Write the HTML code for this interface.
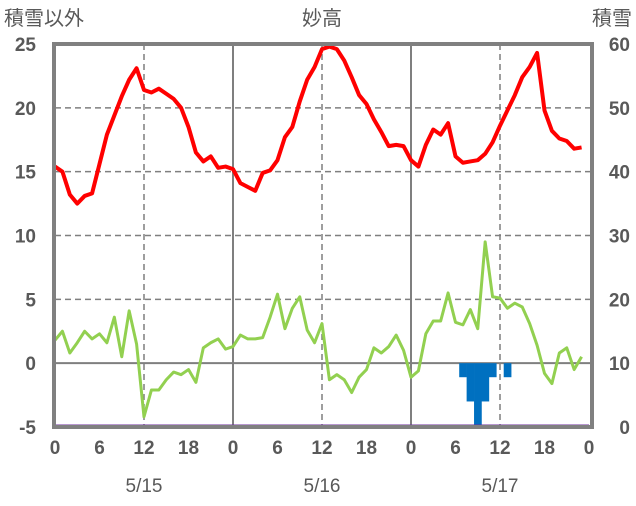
<!DOCTYPE html>
<html><head><meta charset="utf-8"><style>
body{margin:0;background:#fff;}
svg text{font-family:"Liberation Sans","Noto Sans CJK JP",sans-serif;fill:#595959;}
</style></head><body>
<svg id="chart" width="636" height="501" xmlns="http://www.w3.org/2000/svg">
<text x="4" y="25" font-size="20">積雪以外</text>
<text x="322" y="25" font-size="20" text-anchor="middle">妙高</text>
<text x="632" y="25" font-size="20" text-anchor="end">積雪</text>
<g id="grid"></g><g id="bars"></g><g id="lines"></g><g id="axes"></g>
</svg>
<script>
const temp=[15.4,15.0,13.2,12.5,13.1,13.3,15.6,17.9,19.4,20.9,22.2,23.1,21.4,21.2,21.5,21.1,20.7,20.0,18.5,16.5,15.8,16.2,15.3,15.4,15.2,14.1,13.8,13.5,14.9,15.1,15.9,17.7,18.5,20.5,22.2,23.2,24.6,24.8,24.6,23.7,22.4,21.0,20.3,19.1,18.1,17.0,17.1,17.0,15.9,15.4,17.1,18.3,17.9,18.8,16.2,15.7,15.8,15.9,16.4,17.3,18.6,19.8,21.0,22.4,23.2,24.3,19.8,18.2,17.6,17.4,16.8,16.9];
const other=[1.8,2.5,0.8,1.6,2.5,1.9,2.3,1.6,3.6,0.5,4.1,1.5,-4.2,-2.1,-2.1,-1.3,-0.7,-0.9,-0.5,-1.5,1.2,1.6,1.9,1.1,1.3,2.2,1.9,1.9,2.0,3.6,5.4,2.7,4.3,5.2,2.6,1.6,3.1,-1.3,-0.9,-1.3,-2.3,-1.1,-0.5,1.2,0.8,1.3,2.2,1.0,-1.1,-0.6,2.3,3.3,3.3,5.5,3.2,3.0,4.2,2.7,9.5,5.2,5.1,4.3,4.7,4.4,3.1,1.4,-0.8,-1.6,0.8,1.2,-0.5,0.5];
const barHours=[55,56,57,58,59,61];
const barValues=[-1.1,-3,-5,-3,-1.1,-1.1];
const leftTicks=[25,20,15,10,5,0,-5];
const rightTicks=[60,50,40,30,20,10,0];
const hourTicks=[0,6,12,18,24,30,36,42,48,54,60,66,72];
const dateLabels=["5/15","5/16","5/17"];
const X0=55,X1=589,Y0=44,Y1=427;
const x=h=>X0+(X1-X0)*h/72;
const y=v=>Y1-(v+5)*(Y1-Y0)/30;
const yr=v=>Y1-v*(Y1-Y0)/60;
const NS="http://www.w3.org/2000/svg";
function mk(p,t,a){const e=document.createElementNS(NS,t);for(const k in a)e.setAttribute(k,a[k]);document.getElementById(p).appendChild(e);return e;}
for(const v of [20,15,10,5]){const e=mk('grid','line',{x1:X0,x2:X1+2,y1:y(v),y2:y(v),stroke:'#7f7f7f','stroke-width':1.5,'stroke-dasharray':'6,4'});

}
for(const h of [12,36,60]){const e=mk('grid','line',{x1:x(h),x2:x(h),y1:Y0,y2:Y1,stroke:'#7f7f7f','stroke-width':1.5,'stroke-dasharray':'6,4'});

}
for(const h of [24,48]){const e=mk('grid','line',{x1:x(h),x2:x(h),y1:Y0,y2:Y1,stroke:'#7f7f7f','stroke-width':2});

}
{const e=mk('grid','line',{x1:X0,x2:X1+2,y1:y(0),y2:y(0),stroke:'#7f7f7f','stroke-width':2});

}
barHours.forEach((h,i)=>{const v=barValues[i];const e=mk('bars','rect',{x:x(h-0.5),width:x(1)-x(0)+0.3,y:y(0),height:y(v)-y(0),fill:'#0070c0'});

});
function line(arr,col,w,name){const e=mk('lines','polyline',{points:arr.map((v,i)=>x(i)+','+y(v)).join(' '),fill:'none',stroke:col,'stroke-width':w,'stroke-linejoin':'round'});

}
line(other,'#92d050',3,'series-other');
line(temp,'#ff0000',4,'series-temperature');
{const e=mk('lines','line',{x1:X0,x2:X1,y1:y(-5)-1,y2:y(-5)-1,stroke:'#7030a0','stroke-width':3});

}
{const e=mk('axes','rect',{x:X0-1,y:Y0,width:X1-X0+4,height:Y1-Y0,fill:'none',stroke:'#808080','stroke-width':4});

}
for(const v of leftTicks){const e=mk('axes','text',{x:36,y:y(v)+7,'font-size':19,'font-weight':'bold','text-anchor':'end'});e.textContent=v;

}
for(const v of rightTicks){const e=mk('axes','text',{x:630,y:yr(v)+7,'font-size':19,'font-weight':'bold','text-anchor':'end'});e.textContent=v;

}
for(const h of hourTicks){const e=mk('axes','text',{x:x(h),y:454,'font-size':19,'font-weight':'bold','text-anchor':'middle'});e.textContent=h%24;

}
dateLabels.forEach((d,i)=>{const e=mk('axes','text',{x:x(12+24*i),y:492,'font-size':19,'text-anchor':'middle'});e.textContent=d;

});
</script>
</body></html>
